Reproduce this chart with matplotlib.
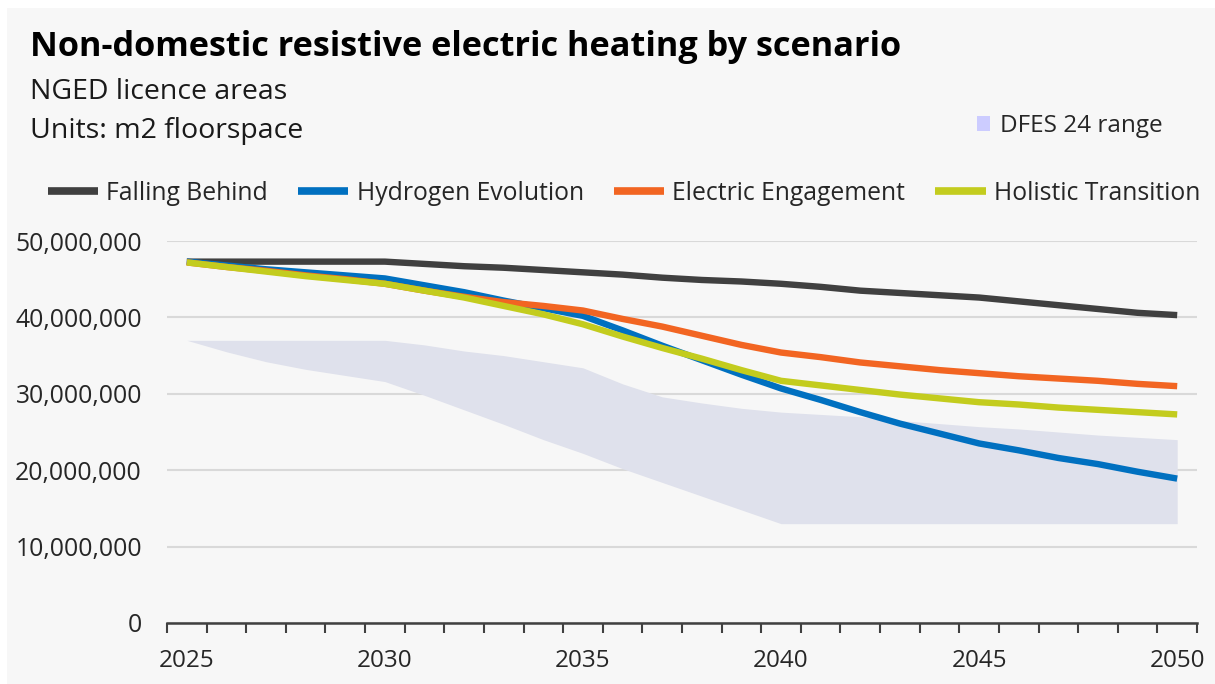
import matplotlib
matplotlib.use("Agg")
import matplotlib.pyplot as plt
from matplotlib.ticker import FuncFormatter, FixedLocator
from matplotlib.patches import Patch, Rectangle
import numpy as np

years = list(range(2025, 2051))

falling_behind = [47.3, 47.3, 47.3, 47.3, 47.3, 47.3, 47.0, 46.7, 46.5, 46.2, 45.9, 45.6, 45.2, 44.9,
                  44.7, 44.4, 44.0, 43.5, 43.2, 42.9, 42.6, 42.1, 41.6, 41.1, 40.6, 40.3]
hydrogen_evolution = [47.3, 46.8, 46.3, 45.9, 45.5, 45.1, 44.2, 43.3, 42.2, 41.2, 40.2, 38.3, 36.3, 34.4,
                      32.5, 30.7, 29.2, 27.6, 26.1, 24.8, 23.5, 22.6, 21.6, 20.8, 19.8, 18.9]
electric_engagement = [47.2, 46.6, 46.1, 45.5, 45.0, 44.4, 43.5, 42.7, 42.0, 41.5, 40.9, 39.8, 38.8, 37.6,
                       36.4, 35.4, 34.8, 34.1, 33.6, 33.1, 32.7, 32.3, 32.0, 31.7, 31.3, 31.0]
holistic_transition = [47.2, 46.6, 46.0, 45.4, 44.9, 44.4, 43.5, 42.6, 41.5, 40.4, 39.1, 37.5, 36.0, 34.6,
                       33.1, 31.7, 31.1, 30.5, 29.9, 29.4, 28.9, 28.6, 28.2, 27.9, 27.6, 27.3]
range_upper = [37.0, 37.0, 37.0, 37.0, 37.0, 37.0, 36.4, 35.6, 35.0, 34.2, 33.4, 31.3, 29.6, 28.8,
               28.1, 27.6, 27.3, 27.0, 26.5, 26.1, 25.7, 25.4, 25.0, 24.6, 24.3, 24.0]
range_lower = [37.0, 35.5, 34.2, 33.2, 32.4, 31.6, 29.8, 27.9, 26.0, 24.0, 22.2, 20.2, 18.4, 16.6,
               14.8, 13.0, 13.0, 13.0, 13.0, 13.0, 13.0, 13.0, 13.0, 13.0, 13.0, 13.0]

series_names = ["Falling Behind", "Hydrogen Evolution", "Electric Engagement", "Holistic Transition"]
series_values = [falling_behind, hydrogen_evolution, electric_engagement, holistic_transition]
series_colors = ["#404040", "#0070C0", "#F26522", "#C3CC1E"]

FONT = "Open Sans"
plt.rcParams["font.family"] = [FONT, "DejaVu Sans"]
BG = "#F7F7F7"

fig = plt.figure(figsize=(12.15, 6.84), dpi=100, facecolor="white")
fig.patches.append(Rectangle((7 / 1215, 0), 1 - 7 / 1215, 1 - 8 / 684, transform=fig.transFigure,
                             facecolor=BG, edgecolor="none", zorder=-10))
ax = fig.add_axes([167 / 1215, 61 / 684, 1030 / 1215, 382 / 684], facecolor=BG)

x = np.arange(len(years))
scale = 1e6
ax.fill_between(x, np.array(range_lower) * scale, np.array(range_upper) * scale,
                color="#DFE1EC", linewidth=0, zorder=1)

handles = []
for name, vals, col in zip(series_names, series_values, series_colors):
    ln, = ax.plot(x, np.array(vals) * scale, color=col, lw=4.6, solid_capstyle="butt",
                  solid_joinstyle="round", zorder=3, label=name)
    handles.append(ln)

ax.set_xlim(-0.5, len(years) - 0.5)
ax.set_ylim(0, 50e6)
ax.set_yticks(np.arange(0, 50e6 + 1, 10e6))
ax.yaxis.set_major_formatter(FuncFormatter(lambda v, p: f"{int(round(v)):,}"))
ax.grid(axis="y", color="#D9D9D9", lw=1.5, zorder=0)
ax.set_axisbelow(True)

label_idx = [i for i, y in enumerate(years) if (y - 2025) % 5 == 0]
ax.set_xticks(label_idx)
ax.set_xticklabels([str(years[i]) for i in label_idx])
ax.xaxis.set_minor_locator(FixedLocator(np.arange(-0.5, len(years), 1.0)))
ax.tick_params(axis="x", which="major", length=0, pad=19, labelsize=17.5, labelcolor="#262626")
ax.tick_params(axis="x", which="minor", length=7, width=1.5, color="#404040", direction="out")
ax.tick_params(axis="y", length=0, pad=18, labelsize=17.8, labelcolor="#262626")

for s in ["top", "right", "left"]:
    ax.spines[s].set_visible(False)
ax.spines["bottom"].set_color("#404040")
ax.spines["bottom"].set_linewidth(1.8)
ax.spines["bottom"].set_zorder(4)

fig.text(30 / 1215, 1 - 47 / 684, "Non-domestic resistive electric heating by scenario",
         fontsize=24.7, fontweight="bold", color="#000000", va="center", ha="left")
fig.text(30 / 1215, 1 - 92 / 684, "NGED licence areas", fontsize=20.5, color="#1a1a1a",
         va="center", ha="left")
fig.text(30 / 1215, 1 - 131 / 684, "Units: m2 floorspace", fontsize=20.5, color="#1a1a1a",
         va="center", ha="left")

leg = fig.legend(handles=handles, labels=series_names, ncol=4, loc="center left",
                 bbox_to_anchor=(48 / 1215, 1 - 193 / 684), frameon=False,
                 fontsize=17.8, handlelength=2.03, handletextpad=0.33, columnspacing=1.22,
                 borderaxespad=0, borderpad=0)
for t in leg.get_texts():
    t.set_color("#262626")
for lh in leg.get_lines():
    lh.set_linewidth(5.5)

leg2 = fig.legend(handles=[Patch(facecolor="#CCCCFF", edgecolor="none")], labels=["DFES 24 range"],
                  loc="center left", bbox_to_anchor=(977 / 1215, 1 - 126 / 684), frameon=False,
                  fontsize=17.5, handlelength=0.55, handleheight=0.55, handletextpad=0.4,
                  borderaxespad=0, borderpad=0)
for t in leg2.get_texts():
    t.set_color("#262626")

fig.savefig("out.png", dpi=100, facecolor="white")
